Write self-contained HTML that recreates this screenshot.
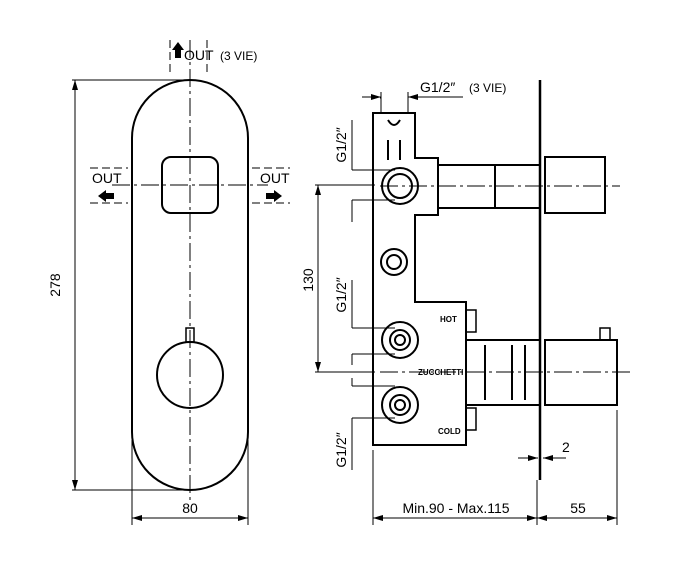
<!DOCTYPE html>
<html><head><style>body{margin:0;background:#fff}svg{display:block}text{font-family:"Liberation Sans",sans-serif;fill:#000}</style></head><body>
<svg width="696" height="566" viewBox="0 0 696 566" xmlns="http://www.w3.org/2000/svg">
<defs><marker id="a" viewBox="0 0 10 6" refX="10" refY="3" markerWidth="10" markerHeight="6" orient="auto-start-reverse"><path d="M0,0L10,3L0,6z"/></marker></defs>
<g fill="none" stroke="#000" stroke-width="2">
<!-- front plate -->
<path d="M132,138 A58,58 0 0 1 248,138 V432 A58,58 0 0 1 132,432 Z"/>
<rect x="162" y="157" width="56" height="56" rx="9"/>
<circle cx="190" cy="375" r="33"/>
<rect x="186" y="328" width="8" height="14" stroke-width="1.5"/>
<!-- right side -->
<path d="M373,113 H415 V158 H438 V215 H415 V302 H466 V445 H373 V302 H373 Z"/>
<path d="M373,113 V302"/>
<rect x="438" y="165" width="102" height="43"/>
<line x1="495" y1="165" x2="495" y2="208"/>
<rect x="545" y="157" width="60" height="56"/>
<rect x="466" y="340" width="74" height="65"/>
<line x1="485" y1="345" x2="485" y2="400"/><line x1="512" y1="345" x2="512" y2="400"/><line x1="525" y1="345" x2="525" y2="400"/>
<rect x="545" y="340" width="72" height="65"/>
<rect x="600" y="328" width="10" height="12" stroke-width="1.5"/>
<rect x="466" y="310" width="10" height="22" stroke-width="1.5"/><rect x="466" y="408" width="10" height="22" stroke-width="1.5"/>
<line x1="540" y1="80" x2="540" y2="480" stroke-width="2.5"/>
<circle cx="400" cy="186" r="18"/><circle cx="400" cy="186" r="12"/>
<circle cx="400" cy="340" r="18"/><circle cx="400" cy="340" r="10"/><circle cx="400" cy="340" r="5"/>
<circle cx="400" cy="405" r="18"/><circle cx="400" cy="405" r="10"/><circle cx="400" cy="405" r="5"/>
<circle cx="394" cy="262" r="13"/><circle cx="394" cy="262" r="7"/>
<path d="M388,120 q6,10 12,0 M388,140 v20 M400,140 v20"/>
</g>
<g fill="none" stroke="#000" stroke-width="1">
<line x1="190" y1="40" x2="190" y2="500" stroke-dasharray="18,4,3,4"/>
<line x1="112" y1="185" x2="268" y2="185" stroke-dasharray="18,4,3,4"/>
<line x1="380" y1="186" x2="620" y2="186" stroke-dasharray="18,4,3,4"/>
<line x1="380" y1="372" x2="630" y2="372" stroke-dasharray="18,4,3,4"/>
<line x1="170" y1="40" x2="170" y2="75" stroke-dasharray="8,4"/><line x1="207" y1="40" x2="207" y2="75" stroke-dasharray="8,4"/>
<line x1="90" y1="168" x2="128" y2="168" stroke-dasharray="8,4"/><line x1="90" y1="203" x2="128" y2="203" stroke-dasharray="8,4"/>
<line x1="252" y1="168" x2="290" y2="168" stroke-dasharray="8,4"/><line x1="252" y1="203" x2="290" y2="203" stroke-dasharray="8,4"/>
<!-- dims -->
<line x1="72" y1="80" x2="185" y2="80"/><line x1="72" y1="490" x2="185" y2="490"/>
<line x1="75" y1="80" x2="75" y2="490" marker-start="url(#a)" marker-end="url(#a)"/>
<line x1="132" y1="440" x2="132" y2="525"/><line x1="248" y1="440" x2="248" y2="525"/>
<line x1="132" y1="518" x2="248" y2="518" marker-start="url(#a)" marker-end="url(#a)"/>
<line x1="315" y1="185" x2="375" y2="185"/><line x1="315" y1="372" x2="375" y2="372"/>
<line x1="318" y1="185" x2="318" y2="372" marker-start="url(#a)" marker-end="url(#a)"/>
<line x1="373" y1="450" x2="373" y2="525"/><line x1="537" y1="480" x2="537" y2="525"/><line x1="617" y1="410" x2="617" y2="525"/>
<line x1="373" y1="518" x2="537" y2="518" marker-start="url(#a)" marker-end="url(#a)"/>
<line x1="537" y1="518" x2="617" y2="518" marker-start="url(#a)" marker-end="url(#a)"/>
<line x1="518" y1="458" x2="538" y2="458" marker-end="url(#a)"/><line x1="566" y1="458" x2="543" y2="458" marker-end="url(#a)"/>
<line x1="380" y1="98" x2="381" y2="98" /><line x1="362" y1="97" x2="381" y2="97" marker-end="url(#a)"/><line x1="463" y1="97" x2="408" y2="97" marker-end="url(#a)"/>
<line x1="381" y1="92" x2="381" y2="113"/><line x1="408" y1="92" x2="408" y2="113"/>
<path d="M352,170 H395 M352,200 H395 M352,170 V120 M352,200 V222 M352,328 H395 M352,354 H395 M352,328 V280 M352,354 V365 M352,386 H395 M352,418 H395 M352,386 V378 M352,418 V470"/>
</g>
<g fill="#000">
<path d="M172,50 L178,42 L184,50 H181 V58 H175 V50Z"/>
<path d="M98,196 L106,190 V193 H114 V199 H106 V202Z"/>
<path d="M282,196 L274,190 V193 H266 V199 H274 V202Z"/>
</g>
<text x="184" y="60" font-size="14">OUT</text><text x="220" y="60" font-size="12">(3 VIE)</text>
<text x="92" y="183" font-size="14">OUT</text><text x="260" y="183" font-size="14">OUT</text>
<text x="60" y="285" font-size="14" transform="rotate(-90 60 285)" text-anchor="middle">278</text>
<text x="190" y="513" font-size="14" text-anchor="middle">80</text>
<text x="313" y="280" font-size="14" transform="rotate(-90 313 280)" text-anchor="middle">130</text>
<text x="420" y="92" font-size="14">G1/2″</text><text x="469" y="92" font-size="12">(3 VIE)</text>
<text x="346" y="145" font-size="14" transform="rotate(-90 346 145)" text-anchor="middle">G1/2″</text>
<text x="346" y="295" font-size="14" transform="rotate(-90 346 295)" text-anchor="middle">G1/2″</text>
<text x="346" y="450" font-size="14" transform="rotate(-90 346 450)" text-anchor="middle">G1/2″</text>
<text x="440" y="322" font-size="8" font-weight="bold">HOT</text>
<text x="438" y="434" font-size="8" font-weight="bold">COLD</text>
<text x="418" y="375" font-size="8" font-weight="bold">ZUCCHETTI</text>
<text x="562" y="452" font-size="14">2</text>
<text x="456" y="513" font-size="14" text-anchor="middle">Min.90  -  Max.115</text>
<text x="578" y="513" font-size="14" text-anchor="middle">55</text>
</svg>
</body></html>
